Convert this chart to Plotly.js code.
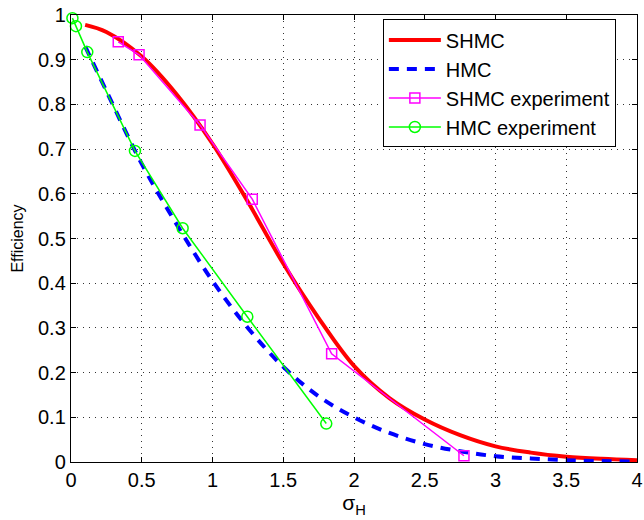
<!DOCTYPE html>
<html>
<head>
<meta charset="utf-8">
<script src="https://cdn.plot.ly/plotly-3.0.1.min.js"></script>
<style>html,body{margin:0;padding:0;background:#fff;}#chart{width:644px;height:520px;}</style>
</head>
<body>
<div id="chart"></div>
<script>
// Theory curves
const curveX = [0.1, 0.25, 0.5, 0.75, 1.0, 1.25, 1.5, 1.75, 2.0, 2.25, 2.5, 2.75, 3.0, 3.25, 3.5, 3.75, 4.0];
const shmcY  = [0.978, 0.962, 0.907, 0.821, 0.712, 0.582, 0.444, 0.322, 0.215, 0.143, 0.095, 0.060, 0.035, 0.021, 0.012, 0.007, 0.004];
const hmcY   = [0.930, 0.830, 0.667, 0.530, 0.405, 0.300, 0.213, 0.147, 0.100, 0.065, 0.040, 0.024, 0.013, 0.008, 0.004, 0.002, 0.001];
// Experiments
const shmcExpX = [0.334, 0.481, 0.912, 1.281, 1.842, 2.777];
const shmcExpY = [0.940, 0.911, 0.754, 0.588, 0.242, 0.014];
const hmcExpX  = [0.01, 0.035, 0.115, 0.452, 0.789, 1.246, 1.804];
const hmcExpY  = [0.993, 0.975, 0.917, 0.696, 0.523, 0.325, 0.086];
const names = ['SHMC', 'HMC', 'SHMC experiment', 'HMC experiment'];
const xTicks = [0, 0.5, 1, 1.5, 2, 2.5, 3, 3.5, 4];
const yTicks = [0, 0.1, 0.2, 0.3, 0.4, 0.5, 0.6, 0.7, 0.8, 0.9, 1];

const font = 'Liberation Sans, Arial, Helvetica, sans-serif';
const traces = [
  {x: curveX, y: shmcY, name: names[0], mode: 'lines', line: {color: '#ff0000', width: 4, shape: 'spline', smoothing: 1}},
  {x: curveX, y: hmcY, name: names[1], mode: 'lines', line: {color: '#0000ff', width: 4, dash: '10px,8px', shape: 'spline', smoothing: 1}},
  {x: shmcExpX, y: shmcExpY, name: names[2], mode: 'lines+markers', cliponaxis: false,
   line: {color: '#ff00ff', width: 1.5}, marker: {symbol: 'square-open', size: 10, color: '#ff00ff', line: {width: 1.5}}},
  {x: hmcExpX, y: hmcExpY, name: names[3], mode: 'lines+markers', cliponaxis: false,
   line: {color: '#00ff00', width: 1.5}, marker: {symbol: 'circle-open', size: 11, color: '#00ff00', line: {width: 1.5}}}
];
const axisCommon = {
  showline: true, mirror: 'ticks', linecolor: '#000', linewidth: 1.2,
  ticks: 'inside', ticklen: 5, tickcolor: '#000',
  showgrid: true, gridcolor: '#333', gridwidth: 1, griddash: '1px,5px',
  zeroline: false, tickfont: {family: font, size: 20, color: '#000'}
};
const layout = {
  width: 644, height: 520,
  margin: {l: 71, r: 7, t: 15, b: 58},
  paper_bgcolor: '#fff', plot_bgcolor: '#fff',
  showlegend: true,
  legend: {x: 0.551, y: 0.99, xanchor: 'left', yanchor: 'top', bgcolor: '#fff',
    bordercolor: '#000', borderwidth: 1, font: {family: font, size: 20, color: '#000'},
    itemwidth: 52, tracegroupgap: 0},
  xaxis: Object.assign({}, axisCommon, {range: [0, 4], tickvals: xTicks,
    title: {text: 'σ<sub>H</sub>', font: {family: font, size: 21, color: '#000'}, standoff: 2}}),
  yaxis: Object.assign({}, axisCommon, {range: [0, 1], tickvals: yTicks,
    title: {text: 'Efficiency', font: {family: font, size: 16, color: '#000'}, standoff: 10}})
};
Plotly.newPlot('chart', traces, layout, {displayModeBar: false, staticPlot: true});
</script>
</body>
</html>
